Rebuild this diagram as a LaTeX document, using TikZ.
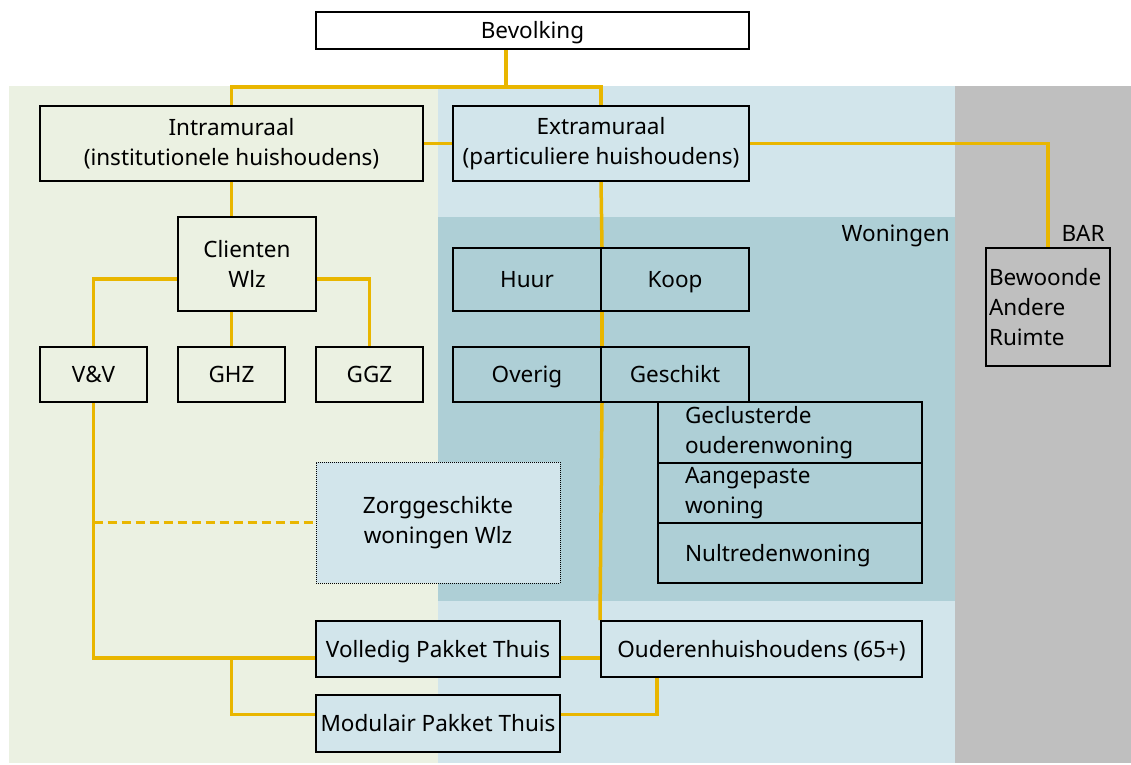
\documentclass[tikz,border=0pt]{standalone}
\usepackage{fontspec}
\setmainfont{Noto Sans}
\usetikzlibrary{calc}
\definecolor{gbg}{RGB}{235,241,226}
\definecolor{lbg}{RGB}{210,229,235}
\definecolor{dbg}{RGB}{174,207,214}
\definecolor{gry}{RGB}{191,191,191}
\definecolor{ylw}{RGB}{233,182,0}
\pgfdeclarelayer{bg}\pgfdeclarelayer{mid}\pgfsetlayers{bg,mid,main}
\begin{document}
\begin{tikzpicture}[x=1pt,y=-1pt,
  font=\fontsize{22.5}{30}\selectfont,
  box/.style={draw=black, line width=2pt, inner sep=0pt, align=center},
  sl/.style={text height=16.5pt, text depth=0pt},
  lbl/.style={inner sep=0pt, text height=16.5pt, text depth=0pt},
  conn/.style={draw=ylw, line width=3.5pt},
  dconn/.style={draw=ylw, line width=2.2pt, dash pattern=on 9pt off 5pt}]
\useasboundingbox (0,0) rectangle (1131,764);
\begin{pgfonlayer}{bg}
  \fill[gbg] (9,86) rectangle (438,763);
  \fill[lbg] (438,86) rectangle (955,763);
  \fill[dbg] (438,217) rectangle (955,601);
  \fill[gry] (955,86) rectangle (1131,763);
\end{pgfonlayer}
% nodes
\node[box,sl,fill=white,minimum width=433,minimum height=37] (bev) at (532.5,30.5) {Bevolking};
\node[box,fill=gbg,minimum width=383,minimum height=75] (intra) at (231.5,143.5) {Intramuraal\\(institutionele huishoudens)};
\node[box,fill=lbg,minimum width=296,minimum height=75] (extra) at (601,143.5) {Extramuraal\\(particuliere huishoudens)};
\node[box,fill=gbg,minimum width=138,minimum height=94] (cli) at (247,264) {Clienten\\Wlz};
\node[box,sl,fill=gbg,minimum width=107,minimum height=55] (vv) at (93.5,374.5) {V\&V};
\node[box,sl,fill=gbg,minimum width=107,minimum height=55] (ghz) at (231.5,374.5) {GHZ};
\node[box,sl,fill=gbg,minimum width=107,minimum height=55] (ggz) at (369.5,374.5) {GGZ};
\node[box,sl,fill=dbg,minimum width=148,minimum height=63] (huur) at (527,279.5) {Huur};
\node[box,sl,fill=dbg,minimum width=148,minimum height=63] (koop) at (675,279.5) {Koop};
\node[box,sl,fill=dbg,minimum width=148,minimum height=55] (overig) at (527,374.5) {Overig};
\node[box,sl,fill=dbg,minimum width=148,minimum height=55] (gesch) at (675,374.5) {Geschikt};
\node[box,fill=dbg,minimum width=264,minimum height=61,text width=210,align=left] (gecl) at (790,432.5) {Geclusterde\\ouderenwoning};
\node[box,fill=dbg,minimum width=264,minimum height=60,text width=210,align=left] (aang) at (790,493) {Aangepaste\\woning};
\node[box,sl,fill=dbg,minimum width=264,minimum height=60,text width=210,align=left] (nult) at (790,553) {Nultredenwoning};
\node[box,fill=lbg,line width=1pt,dash pattern=on 1pt off 1pt,minimum width=244,minimum height=121] (zorg) at (438,522.5) {Zorggeschikte\\woningen Wlz};
\node[box,sl,fill=lbg,minimum width=244,minimum height=56] (vol) at (438,649) {Volledig Pakket Thuis};
\node[box,sl,fill=lbg,minimum width=244,minimum height=57] (mod) at (438,723.5) {Modulair Pakket Thuis};
\node[box,sl,fill=lbg,minimum width=321,minimum height=56] (oud) at (761.5,649) {Ouderenhuishoudens (65+)};
\node[box,fill=gry,minimum width=124,minimum height=118,text width=118,align=left] (bar) at (1048,307) {Bewoonde\\Andere\\Ruimte};
\node[lbl,anchor=east] (won) at (950,233) {Woningen};
\node[lbl] (barl) at (1083,233) {BAR};
% connectors
\coordinate (j1) at (506,87);
\coordinate (j2) at (231.5,658);
\begin{pgfonlayer}{mid}
  \draw[conn] (j1 |- bev.south) -- (j1);
  \draw[conn] (intra.north) |- (j1) -| (extra.north);
  \draw[conn] (intra.east) -- (extra.west);
  \draw[conn] (extra.east) -| (bar.north);
  \draw[conn] (intra.south -| ghz.north) -- (ghz.north |- cli.north);
  \draw[conn] ([yshift=-15pt]cli.west) -| (vv.north);
  \draw[conn] (ghz.north |- cli.south) -- (ghz.north);
  \draw[conn] ([yshift=-15pt]cli.east) -| (ggz.north);
  \draw[conn] (extra.south) -- (huur.north east);
  \draw[conn] (huur.south east) -- (overig.north east);
  \draw[conn] (overig.south east) -- (oud.north west);
  \draw[conn] (vv.south) |- ([yshift=-9pt]vol.west);
  \draw[conn] (j2) |- ([yshift=9pt]mod.west);
  \draw[conn] ([yshift=-9pt]vol.east) -- ([yshift=-9pt]oud.west);
  \draw[conn] (oud.south -| gecl.west) |- ([yshift=9pt]mod.east);
  \draw[dconn] (vv.south |- zorg.west) -- (zorg.west);
\end{pgfonlayer}
\end{tikzpicture}
\end{document}
